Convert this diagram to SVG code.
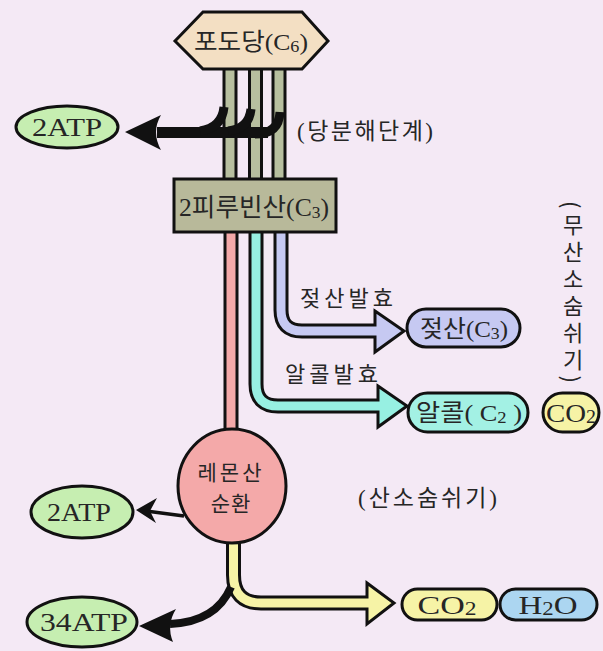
<svg xmlns="http://www.w3.org/2000/svg" width="603" height="651" viewBox="0 0 603 651">
<style>
.t{font-family:"Liberation Serif","Noto Sans CJK KR",serif;fill:#262626;}
.k{font-family:"Noto Sans CJK KR","Liberation Serif",sans-serif;fill:#262626;}
.ol{fill:none;stroke:#111;stroke-width:15;}
.in{fill:none;stroke-width:9;}
.node{stroke:#111;stroke-width:3;}
.blk{fill:#111;stroke:none;}
</style>
<rect width="603" height="651" fill="#f4e9f5"/>

<g id="connectors">
  <g>
    <line class="ol" x1="230" y1="66" x2="230" y2="181" stroke-width="14"/>
    <line class="ol" x1="255.5" y1="66" x2="255.5" y2="181" stroke-width="14"/>
    <line class="ol" x1="279" y1="66" x2="279" y2="181" stroke-width="14"/>
    <line class="in" x1="230" y1="66" x2="230" y2="181" stroke="#b7bf9f" stroke-width="7"/>
    <line class="in" x1="255.5" y1="66" x2="255.5" y2="181" stroke="#b7bf9f" stroke-width="7"/>
    <line class="in" x1="279" y1="66" x2="279" y2="181" stroke="#b7bf9f" stroke-width="7"/>
  </g>
  <g id="arrow-glycolysis">
    <path d="M157,132.5 H268" fill="none" stroke="#111" stroke-width="11"/>
    <path d="M224,107 Q222,128 200,131" fill="none" stroke="#111" stroke-width="9"/>
    <path d="M251,109 Q249,129 228,131" fill="none" stroke="#111" stroke-width="9"/>
    <path d="M280,112 Q279,134 255,134" fill="none" stroke="#111" stroke-width="9"/>
    <path class="blk" d="M125,132 L161,115 Q151,132 161,150 Z"/>
  </g>
  <g id="pipe-pink">
    <path class="ol" d="M231,230 V440" stroke-width="14"/>
    <path class="in" d="M231,230 V440" stroke="#f4a9a9" stroke-width="7"/>
  </g>
  <g id="pipe-lactic">
    <path class="ol" d="M281,230 V310 Q281,331 302,331 H378"/>
    <polygon class="node" points="375,311 404,331 375,352" fill="#c6c9f2"/>
    <path class="in" d="M281,230 V310 Q281,331 302,331 H380" stroke="#c6c9f2"/>
  </g>
  <g id="pipe-alcohol">
    <path class="ol" d="M256,230 V384 Q256,406 278,406 H381"/>
    <polygon class="node" points="378,386 407,406 378,427" fill="#97f0e2"/>
    <path class="in" d="M256,230 V384 Q256,406 278,406 H383" stroke="#97f0e2"/>
  </g>
  <g id="pipe-aerobic">
    <path class="ol" d="M233.5,530 V575 Q233.5,603 261,603 H370" stroke-width="16"/>
    <polygon class="node" points="367,583 394,603 367,624" fill="#f6f3a6"/>
    <path class="in" d="M233.5,530 V575 Q233.5,603 261,603 H372" stroke="#f6f3a6" stroke-width="10"/>
  </g>
  <g id="arrow-2atp-bottom">
    <path d="M184,516 L146,511" fill="none" stroke="#111" stroke-width="3.5"/>
    <path class="blk" d="M136,510 L157,498 L150,511 L156,523 Z"/>
  </g>
  <g id="arrow-34atp">
    <path d="M231,587 Q216,622 170,624" fill="none" stroke="#111" stroke-width="8"/>
    <path class="blk" d="M139,626 L176,609 Q166,625 173,642 Z"/>
  </g>
</g>

<g id="glucose">
  <polygon class="node" points="175,41 203,12 302,12 328,41 302,69 203,69" fill="#f3dfc3"/>
  <text class="t" x="251" y="50" font-size="24" text-anchor="middle" textLength="114" lengthAdjust="spacingAndGlyphs">포도당(C<tspan font-size="17" dy="2">6</tspan><tspan dy="-2">)</tspan></text>
</g>

<g id="pyruvate">
  <rect class="node" x="174" y="179" width="162" height="53" fill="#b8b99a"/>
  <text class="t" x="254" y="216" font-size="25" text-anchor="middle" textLength="150" lengthAdjust="spacingAndGlyphs">2피루빈산(C<tspan font-size="17" dy="2">3</tspan><tspan dy="-2">)</tspan></text>
</g>

<g id="atp-top">
  <ellipse class="node" cx="67" cy="127" rx="51" ry="21" fill="#c6eeb1"/>
  <text class="t" x="67" y="136" font-size="26" text-anchor="middle" textLength="70" lengthAdjust="spacingAndGlyphs">2ATP</text>
</g>

<g id="label-glycolysis">
  <text class="t" x="297" y="139" font-size="23" textLength="136" lengthAdjust="spacing">(당분해단계)</text>
</g>

<g id="label-lactic-fermentation">
  <text class="k" x="300" y="306" font-size="22" textLength="93" lengthAdjust="spacing">젖산발효</text>
</g>
<g id="label-alcohol-fermentation">
  <text class="k" x="285" y="382" font-size="22" textLength="93" lengthAdjust="spacing">알콜발효</text>
</g>

<g id="lactic-acid">
  <rect class="node" x="407" y="309" width="113" height="38" rx="19" fill="#c6c9f2"/>
  <text class="t" x="464" y="337" font-size="24" text-anchor="middle" textLength="88" lengthAdjust="spacingAndGlyphs">젖산(C<tspan font-size="17" dy="2">3</tspan><tspan dy="-2">)</tspan></text>
</g>

<g id="alcohol">
  <rect class="node" x="408" y="393" width="120" height="39" rx="19.5" fill="#a3f1e4"/>
  <text class="t" x="469" y="421" font-size="24" text-anchor="middle" textLength="106" lengthAdjust="spacingAndGlyphs">알콜( C<tspan font-size="17" dy="2">2</tspan><tspan dy="-2"> )</tspan></text>
</g>

<g id="co2-anaerobic">
  <rect class="node" x="543" y="393" width="56" height="39" rx="19.5" fill="#f6f3a6"/>
  <text class="t" x="571" y="422" font-size="26" text-anchor="middle" textLength="50" lengthAdjust="spacingAndGlyphs">CO<tspan font-size="18" dy="1">2</tspan></text>
</g>

<g id="label-anaerobic">
  <text class="k" x="573" y="201" font-size="22" letter-spacing="5" style="writing-mode:vertical-rl;text-orientation:mixed">(무산소숨쉬기)</text>
</g>

<g id="citric-cycle">
  <ellipse class="node" cx="232" cy="486" rx="54" ry="57" fill="#f4a9a9"/>
  <text class="k" font-size="21" text-anchor="middle"><tspan x="231" y="480" letter-spacing="3">레몬산</tspan><tspan x="231" y="511" letter-spacing="1">순환</tspan></text>
</g>

<g id="atp-bottom">
  <ellipse class="node" cx="82" cy="512" rx="51" ry="26" fill="#c6eeb1"/>
  <text class="t" x="79" y="521" font-size="26" text-anchor="middle" textLength="64" lengthAdjust="spacingAndGlyphs">2ATP</text>
</g>

<g id="atp-34">
  <ellipse class="node" cx="82" cy="622" rx="55" ry="25" fill="#c6eeb1"/>
  <text class="t" x="84" y="631" font-size="26" text-anchor="middle" textLength="88" lengthAdjust="spacingAndGlyphs">34ATP</text>
</g>

<g id="label-aerobic">
  <text class="t" x="358" y="506" font-size="23" textLength="139" lengthAdjust="spacing">(산소숨쉬기)</text>
</g>

<g id="co2-aerobic">
  <rect class="node" x="402" y="589" width="95" height="31" rx="15.5" fill="#f6f3a6"/>
  <text class="t" x="447" y="614" font-size="26" text-anchor="middle" textLength="59" lengthAdjust="spacingAndGlyphs">CO<tspan font-size="18" dy="1">2</tspan></text>
</g>

<g id="h2o">
  <rect class="node" x="500" y="589" width="97" height="31" rx="15.5" fill="#acd6f1"/>
  <text class="t" x="548" y="614" font-size="26" text-anchor="middle" textLength="59" lengthAdjust="spacingAndGlyphs">H<tspan font-size="18" dy="1">2</tspan><tspan dy="-1">O</tspan></text>
</g>
</svg>
